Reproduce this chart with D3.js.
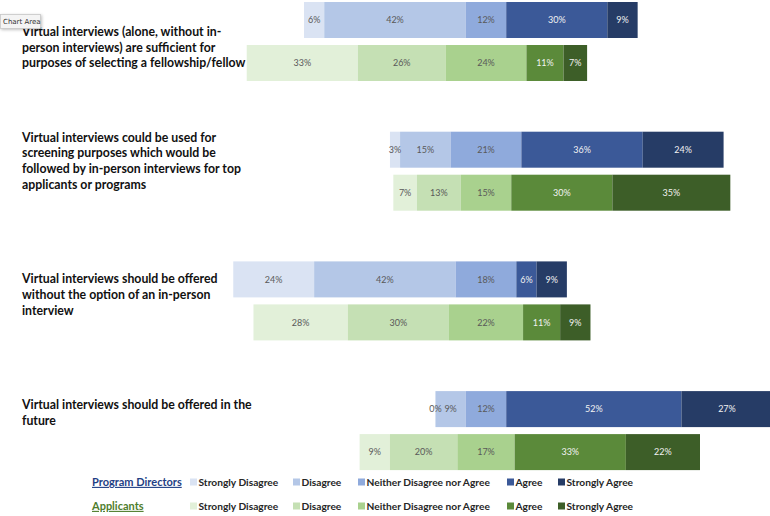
<!DOCTYPE html>
<html>
<head>
<meta charset="utf-8">
<script src="https://cdn.jsdelivr.net/npm/d3@7/dist/d3.min.js"></script>
<style>
  html, body { margin: 0; padding: 0; background: #fff; }
  svg { display: block; }
</style>
</head>
<body>
<svg id="chart" width="770" height="516"></svg>
<script>
// ---------- DATA ----------
const categories = [
  "Q1", "Q2", "Q3", "Q4"
];
const questionLines = [
  ["Virtual interviews (alone, without in-", "person interviews) are sufficient for", "purposes of selecting a fellowship/fellow"],
  ["Virtual  interviews could be used for", "screening purposes which would be", "followed by in-person interviews for top", "applicants or programs"],
  ["Virtual interviews should be offered", "without the option of an in-person", "interview"],
  ["Virtual interviews should be offered in the", "future"]
];
const levels = ["Strongly Disagree", "Disagree", "Neither Disagree nor Agree", "Agree", "Strongly Agree"];
const groups = ["Program Directors", "Applicants"];
const pdValues = [
  [6, 42, 12, 30, 9],
  [3, 15, 21, 36, 24],
  [24, 42, 18, 6, 9],
  [0, 9, 12, 52, 27]
];
const appValues = [
  [33, 26, 24, 11, 7],
  [7, 13, 15, 30, 35],
  [28, 30, 22, 11, 9],
  [9, 20, 17, 33, 22]
];

// ---------- STYLE / LAYOUT ----------
const pdColors = ["#dae3f3", "#b4c7e7", "#8faadc", "#3b5998", "#263c66"];
const appColors = ["#e2f0d9", "#c5e0b4", "#a9d18e", "#5b8a3a", "#3d5e28"];
const pdTextColors = ["#595959", "#595959", "#595959", "#f2f2f2", "#f2f2f2"];
const appTextColors = ["#595959", "#595959", "#595959", "#f2f2f2", "#f2f2f2"];
const labelBaselineOffsets = [34, 10, 22, 18];
const FONT = "Lato, 'Open Sans', sans-serif";

const svg = d3.select("#chart");

// x scale: diverging, centred at the middle of the neutral category
const x = d3.scaleLinear().domain([-60, 60]).range([486 - 202.2, 486 + 202.2]);

const y = d3.scaleBand().domain(categories).range([2, 2 + 4 * 129.7]).paddingInner(0).paddingOuter(0);
const ySub = d3.scaleBand().domain(groups).range([0, 79]).paddingInner(2 - 79 / 43).paddingOuter(0);

function segments(vals) {
  let start = -(vals[0] + vals[1] + vals[2] / 2);
  return vals.map((v, i) => {
    const s = { i, v, x0: start, x1: start + v };
    start += v;
    return s;
  });
}

const series = [
  { key: groups[0], values: pdValues, colors: pdColors, text: pdTextColors },
  { key: groups[1], values: appValues, colors: appColors, text: appTextColors }
];

categories.forEach((cat, ci) => {
  const g = svg.append("g").attr("transform", `translate(0,${y(cat)})`);
  series.forEach(sr => {
    const segs = segments(sr.values[ci]);
    const row = g.append("g").attr("transform", `translate(0,${ySub(sr.key)})`);
    row.selectAll("rect").data(segs).join("rect")
      .attr("x", d => x(d.x0))
      .attr("width", d => Math.max(0, x(d.x1) - x(d.x0)))
      .attr("y", 0)
      .attr("height", ySub.bandwidth())
      .attr("fill", d => sr.colors[d.i]);
    row.selectAll("text").data(segs).join("text")
      .attr("x", d => (x(d.x0) + x(d.x1)) / 2)
      .attr("y", ySub.bandwidth() / 2)
      .attr("dy", "0.35em")
      .attr("text-anchor", "middle")
      .attr("font-family", FONT)
      .attr("font-size", 9)
      .attr("fill", d => sr.text[d.i])
      .text(d => d.v + "%");
  });
  // question label
  const t = svg.append("text")
    .attr("x", 22)
    .attr("y", y(cat) + labelBaselineOffsets[ci])
    .attr("font-family", FONT)
    .attr("font-weight", "bold")
    .attr("font-size", 12.3)
    .attr("fill", "#111");
  questionLines[ci].forEach((line, li) => {
    t.append("tspan").attr("x", 22).attr("dy", li === 0 ? 0 : 15.6).text(line);
  });
});

// ---------- LEGEND ----------
const legendRows = [
  { name: groups[0], y: 482, colors: pdColors, nameColor: "#1f3f85" },
  { name: groups[1], y: 506, colors: appColors, nameColor: "#4e7d2c" }
];
const legendX = [190, 293, 358, 507, 558];
legendRows.forEach(r => {
  svg.append("text")
    .attr("x", 92).attr("y", r.y).attr("dy", "0.35em")
    .attr("font-family", FONT).attr("font-weight", "bold").attr("font-size", 11)
    .attr("fill", r.nameColor)
    .attr("text-decoration", "underline")
    .text(r.name);
  levels.forEach((lv, i) => {
    svg.append("rect")
      .attr("x", legendX[i]).attr("y", r.y - 3.5)
      .attr("width", 7).attr("height", 7)
      .attr("fill", r.colors[i]);
    svg.append("text")
      .attr("x", legendX[i] + 8.5).attr("y", r.y).attr("dy", "0.35em")
      .attr("font-family", FONT).attr("font-weight", "bold").attr("font-size", 10.2)
      .attr("fill", "#262626")
      .text(lv);
  });
});

// ---------- "Chart Area" tooltip ----------
const tip = svg.append("g").attr("transform", "translate(0,14)");
tip.append("rect").attr("x", 0.5).attr("y", 0.5).attr("width", 40).attr("height", 14)
  .attr("fill", "#f4f4f4").attr("stroke", "#c8c8c8").attr("stroke-width", 0.8)
  .style("filter", "drop-shadow(1px 1px 1.5px rgba(0,0,0,0.25))");
tip.append("text").attr("x", 3).attr("y", 8).attr("dy", "0.35em")
  .attr("font-family", "'DejaVu Sans', sans-serif").attr("font-size", 7)
  .attr("fill", "#333").text("Chart Area");
</script>
</body>
</html>
